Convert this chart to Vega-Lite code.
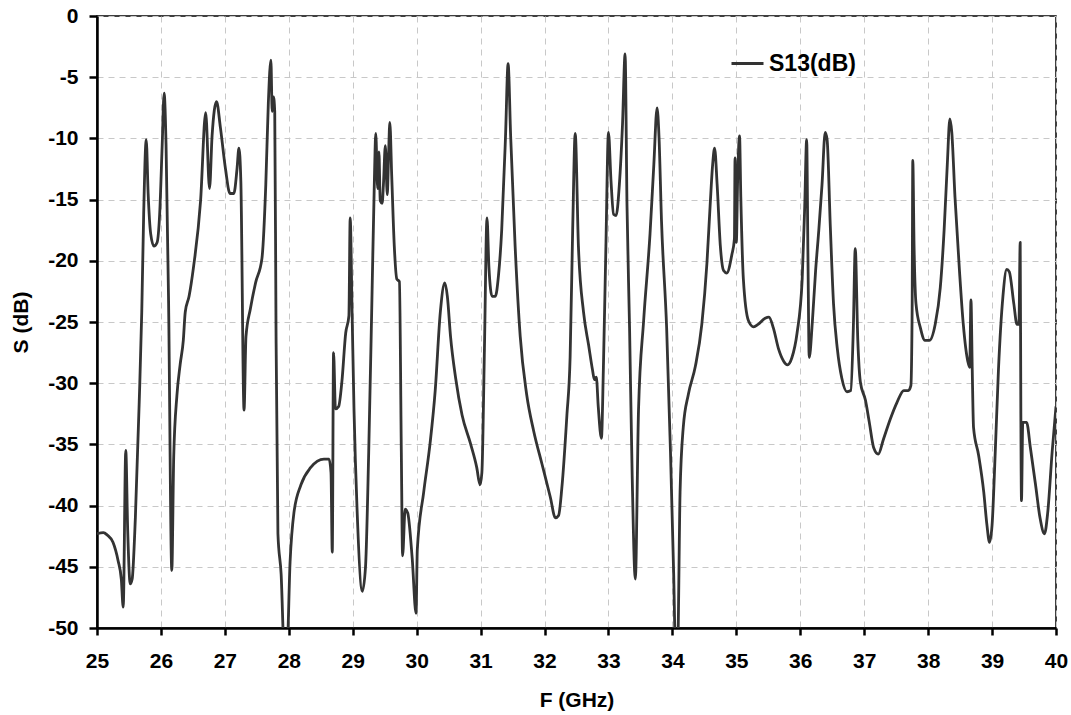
{
  "$schema": "https://vega.github.io/schema/vega-lite/v6.json",
  "autosize": "none",
  "width": 959,
  "height": 612,
  "padding": {"left": 97, "top": 16, "right": 15, "bottom": 87},
  "background": "white",
  "config": {
    "view": {"stroke": "#000000", "strokeWidth": 1.5},
    "axis": {
      "labelFont": "Liberation Sans", "labelFontWeight": "bold", "labelFontSize": 21, "labelColor": "#000000", "labelFlush": false,
      "titleFont": "Liberation Sans", "titleFontWeight": "bold", "titleFontSize": 21, "titleColor": "#000000",
      "domainColor": "#000000", "domainWidth": 2.5, "tickColor": "#000000", "tickWidth": 2.5,
      "gridColor": "#c8c8c8", "gridDash": [6, 5], "gridWidth": 1
    }
  },
  "data": {"values": [
    {"F":25.0,"S":-42.3},{"F":25.1,"S":-42.2},{"F":25.16,"S":-42.4},{"F":25.25,"S":-43.0},{"F":25.33,"S":-44.5},{"F":25.38,"S":-46},{"F":25.41,"S":-48.3},{"F":25.45,"S":-35.5},{"F":25.48,"S":-42},{"F":25.52,"S":-46.4},{"F":25.55,"S":-46.0},{"F":25.6,"S":-41},{"F":25.66,"S":-31.6},{"F":25.7,"S":-24.2},{"F":25.73,"S":-16.2},{"F":25.77,"S":-10.1},{"F":25.8,"S":-14.5},{"F":25.84,"S":-17.8},{"F":25.89,"S":-18.8},{"F":25.94,"S":-18.5},{"F":25.98,"S":-16.2},{"F":26.02,"S":-10.5},{"F":26.05,"S":-6.3},{"F":26.08,"S":-10.5},{"F":26.12,"S":-23.5},{"F":26.17,"S":-45.3},{"F":26.2,"S":-36},{"F":26.25,"S":-31},{"F":26.3,"S":-28.5},{"F":26.35,"S":-26.5},{"F":26.38,"S":-24.2},{"F":26.44,"S":-22.9},{"F":26.51,"S":-20.5},{"F":26.62,"S":-15.1},{"F":26.7,"S":-7.9},{"F":26.76,"S":-14.1},{"F":26.8,"S":-9.8},{"F":26.87,"S":-7.0},{"F":26.93,"S":-9.1},{"F":27.01,"S":-12.5},{"F":27.08,"S":-14.5},{"F":27.14,"S":-14.5},{"F":27.19,"S":-12.5},{"F":27.22,"S":-10.8},{"F":27.25,"S":-13.5},{"F":27.3,"S":-32.2},{"F":27.33,"S":-26.2},{"F":27.4,"S":-23.9},{"F":27.48,"S":-21.8},{"F":27.58,"S":-19.8},{"F":27.64,"S":-13.8},{"F":27.68,"S":-7.1},{"F":27.72,"S":-3.6},{"F":27.74,"S":-7.8},{"F":27.76,"S":-6.6},{"F":27.78,"S":-7.8},{"F":27.8,"S":-25.5},{"F":27.83,"S":-42.3},{"F":27.88,"S":-45.6},{"F":27.93,"S":-52},{"F":27.97,"S":-52},{"F":28.02,"S":-44.6},{"F":28.08,"S":-40.6},{"F":28.19,"S":-38.3},{"F":28.34,"S":-36.9},{"F":28.55,"S":-36.2},{"F":28.63,"S":-36.2},{"F":28.66,"S":-37.3},{"F":28.68,"S":-43.8},{"F":28.7,"S":-27.5},{"F":28.73,"S":-32.1},{"F":28.78,"S":-31.9},{"F":28.83,"S":-29.9},{"F":28.89,"S":-25.9},{"F":28.94,"S":-24.5},{"F":28.96,"S":-16.5},{"F":28.99,"S":-24.2},{"F":29.02,"S":-32.2},{"F":29.07,"S":-40.6},{"F":29.15,"S":-47.0},{"F":29.2,"S":-45},{"F":29.25,"S":-35.6},{"F":29.3,"S":-23.2},{"F":29.34,"S":-13.1},{"F":29.36,"S":-9.6},{"F":29.39,"S":-14.1},{"F":29.41,"S":-11.1},{"F":29.43,"S":-15.1},{"F":29.46,"S":-15.3},{"F":29.48,"S":-13.8},{"F":29.51,"S":-10.6},{"F":29.54,"S":-14.6},{"F":29.56,"S":-11.5},{"F":29.58,"S":-8.7},{"F":29.61,"S":-13.1},{"F":29.65,"S":-18.8},{"F":29.69,"S":-21.5},{"F":29.73,"S":-21.7},{"F":29.76,"S":-35.6},{"F":29.78,"S":-44.1},{"F":29.82,"S":-40.3},{"F":29.86,"S":-40.6},{"F":29.93,"S":-44.3},{"F":29.99,"S":-48.8},{"F":30.01,"S":-43.6},{"F":30.11,"S":-38.9},{"F":30.21,"S":-34.9},{"F":30.29,"S":-30.6},{"F":30.37,"S":-24.2},{"F":30.44,"S":-21.8},{"F":30.48,"S":-22.9},{"F":30.53,"S":-26.2},{"F":30.61,"S":-29.6},{"F":30.71,"S":-32.6},{"F":30.84,"S":-34.9},{"F":30.94,"S":-36.9},{"F":30.99,"S":-38.3},{"F":31.02,"S":-37.3},{"F":31.06,"S":-27.2},{"F":31.1,"S":-16.5},{"F":31.13,"S":-20.5},{"F":31.18,"S":-22.9},{"F":31.23,"S":-22.9},{"F":31.28,"S":-21.2},{"F":31.33,"S":-17.5},{"F":31.39,"S":-9.8},{"F":31.43,"S":-3.9},{"F":31.47,"S":-9.8},{"F":31.54,"S":-18.8},{"F":31.62,"S":-26.2},{"F":31.72,"S":-30.9},{"F":31.83,"S":-33.9},{"F":31.96,"S":-36.6},{"F":32.09,"S":-39.3},{"F":32.17,"S":-41.0},{"F":32.22,"S":-40.8},{"F":32.27,"S":-38.6},{"F":32.35,"S":-32.6},{"F":32.4,"S":-27.9},{"F":32.44,"S":-17.5},{"F":32.48,"S":-9.6},{"F":32.53,"S":-18.8},{"F":32.61,"S":-24.2},{"F":32.69,"S":-26.9},{"F":32.75,"S":-28.9},{"F":32.78,"S":-29.7},{"F":32.81,"S":-29.5},{"F":32.84,"S":-31.9},{"F":32.89,"S":-34.5},{"F":32.92,"S":-28.9},{"F":32.96,"S":-18.8},{"F":33.0,"S":-9.5},{"F":33.04,"S":-13.5},{"F":33.08,"S":-16.2},{"F":33.12,"S":-16.3},{"F":33.17,"S":-13.8},{"F":33.22,"S":-8.8},{"F":33.26,"S":-3.1},{"F":33.29,"S":-15.5},{"F":33.33,"S":-25.5},{"F":33.37,"S":-37.3},{"F":33.42,"S":-46.0},{"F":33.47,"S":-32.2},{"F":33.55,"S":-24.9},{"F":33.65,"S":-17.8},{"F":33.71,"S":-12.1},{"F":33.76,"S":-7.5},{"F":33.79,"S":-9.8},{"F":33.83,"S":-16.8},{"F":33.91,"S":-25.5},{"F":33.97,"S":-35.6},{"F":34.02,"S":-45.6},{"F":34.05,"S":-52},{"F":34.08,"S":-52},{"F":34.12,"S":-38.9},{"F":34.17,"S":-33.6},{"F":34.25,"S":-30.9},{"F":34.36,"S":-28.6},{"F":34.46,"S":-25.2},{"F":34.54,"S":-20.2},{"F":34.59,"S":-15.5},{"F":34.63,"S":-12.1},{"F":34.66,"S":-10.8},{"F":34.7,"S":-13.8},{"F":34.75,"S":-18.8},{"F":34.8,"S":-20.8},{"F":34.85,"S":-21.0},{"F":34.93,"S":-19.5},{"F":34.97,"S":-18.2},{"F":34.98,"S":-11.6},{"F":35.0,"S":-18.5},{"F":35.02,"S":-13.5},{"F":35.05,"S":-9.8},{"F":35.07,"S":-14.8},{"F":35.11,"S":-21.5},{"F":35.19,"S":-24.9},{"F":35.27,"S":-25.4},{"F":35.34,"S":-25.2},{"F":35.45,"S":-24.7},{"F":35.51,"S":-24.6},{"F":35.58,"S":-25.5},{"F":35.66,"S":-27.2},{"F":35.74,"S":-28.2},{"F":35.8,"S":-28.5},{"F":35.87,"S":-27.9},{"F":35.95,"S":-25.9},{"F":36.03,"S":-21.5},{"F":36.07,"S":-15.5},{"F":36.1,"S":-10.1},{"F":36.12,"S":-19.5},{"F":36.14,"S":-27.9},{"F":36.19,"S":-24.9},{"F":36.24,"S":-20.8},{"F":36.29,"S":-17.5},{"F":36.34,"S":-13.8},{"F":36.39,"S":-9.5},{"F":36.42,"S":-10.1},{"F":36.47,"S":-17.2},{"F":36.52,"S":-23.5},{"F":36.58,"S":-27.2},{"F":36.65,"S":-29.6},{"F":36.73,"S":-30.7},{"F":36.79,"S":-30.6},{"F":36.83,"S":-25.5},{"F":36.86,"S":-19.0},{"F":36.9,"S":-26.5},{"F":36.94,"S":-29.9},{"F":37.02,"S":-31.4},{"F":37.08,"S":-33.2},{"F":37.15,"S":-35.3},{"F":37.22,"S":-35.8},{"F":37.3,"S":-34.6},{"F":37.41,"S":-32.9},{"F":37.51,"S":-31.6},{"F":37.62,"S":-30.6},{"F":37.69,"S":-30.6},{"F":37.73,"S":-30.2},{"F":37.75,"S":-23.9},{"F":37.76,"S":-11.8},{"F":37.78,"S":-18.8},{"F":37.81,"S":-23.5},{"F":37.88,"S":-25.5},{"F":37.95,"S":-26.5},{"F":38.02,"S":-26.5},{"F":38.11,"S":-25.2},{"F":38.19,"S":-22.2},{"F":38.25,"S":-17.5},{"F":38.3,"S":-12.1},{"F":38.34,"S":-8.4},{"F":38.37,"S":-9.5},{"F":38.42,"S":-14.8},{"F":38.49,"S":-20.8},{"F":38.55,"S":-25.2},{"F":38.62,"S":-28.2},{"F":38.65,"S":-28.7},{"F":38.67,"S":-23.2},{"F":38.69,"S":-28.9},{"F":38.71,"S":-33.6},{"F":38.79,"S":-35.9},{"F":38.87,"S":-38.9},{"F":38.92,"S":-41.6},{"F":38.96,"S":-43.0},{"F":39.0,"S":-41.6},{"F":39.05,"S":-35.6},{"F":39.1,"S":-28.9},{"F":39.17,"S":-22.9},{"F":39.23,"S":-20.7},{"F":39.27,"S":-20.9},{"F":39.34,"S":-23.5},{"F":39.39,"S":-25.2},{"F":39.42,"S":-25.2},{"F":39.44,"S":-18.5},{"F":39.45,"S":-32.2},{"F":39.46,"S":-39.6},{"F":39.48,"S":-33.2},{"F":39.54,"S":-33.2},{"F":39.6,"S":-35.3},{"F":39.68,"S":-38.3},{"F":39.75,"S":-41.0},{"F":39.82,"S":-42.3},{"F":39.87,"S":-40.6},{"F":39.94,"S":-35.6},{"F":40.0,"S":-31.9}
  ]},
  "mark": {"type": "line", "clip": true, "strokeWidth": 2.8, "strokeJoin": "round", "interpolate": "monotone"},
  "encoding": {
    "x": {"field": "F", "type": "quantitative", "title": "F (GHz)",
      "scale": {"domain": [25, 40], "nice": false, "zero": false},
      "axis": {"values": [25,26,27,28,29,30,31,32,33,34,35,36,37,38,39,40], "tickSize": 7, "labelPadding": 15, "titlePadding": 18, "labelExpr": "format(datum.value, 'd')"}},
    "y": {"field": "S", "type": "quantitative", "title": "S (dB)",
      "scale": {"domain": [-50, 0], "nice": false, "zero": false},
      "axis": {"values": [0,-5,-10,-15,-20,-25,-30,-35,-40,-45,-50], "tickSize": 8, "labelPadding": 11, "titlePadding": 16, "labelExpr": "datum.value == 0 ? '0' : '-' + abs(datum.value)"}},
    "color": {"datum": "S13(dB)", "scale": {"range": ["#333333"]},
      "legend": {"title": null, "orient": "none", "legendX": 633, "legendY": 30, "padding": 0, "symbolType": "stroke", "symbolSize": 1024, "symbolStrokeWidth": 2.8, "symbolOffset": 0, "labelFont": "Liberation Sans", "labelFontWeight": "bold", "labelFontSize": 23, "labelColor": "#000000", "labelOffset": 4}}
  }
}
